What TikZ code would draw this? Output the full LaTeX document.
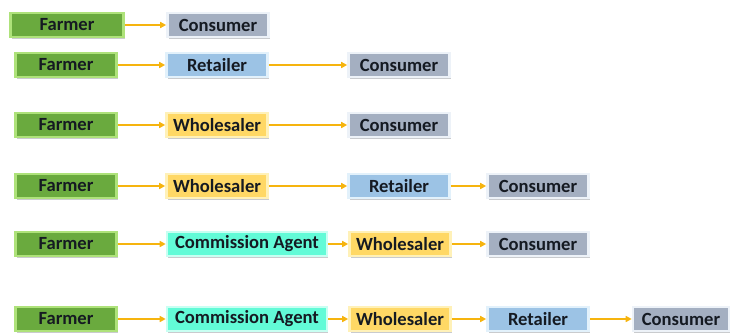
\documentclass[tikz,border=0pt]{standalone}
\usepackage{fontspec}
\setmainfont{Carlito}
\usetikzlibrary{arrows.meta,shadows}
\definecolor{farmfill}{HTML}{6AAA3E}
\definecolor{farmedge}{HTML}{AEE27A}
\definecolor{consfill}{HTML}{A4AFC1}
\definecolor{consedge}{HTML}{EDF2F8}
\definecolor{retfill}{HTML}{9CC3E5}
\definecolor{retedge}{HTML}{E2F1FB}
\definecolor{wholefill}{HTML}{FFD865}
\definecolor{wholeedge}{HTML}{FFF1B8}
\definecolor{agentfill}{HTML}{62FBD7}
\definecolor{agentedge}{HTML}{C8FFF2}
\definecolor{linkgold}{HTML}{F6B40E}
\definecolor{labelink}{HTML}{151A22}
\definecolor{shade}{HTML}{C9CBCE}
\begin{document}
\begin{tikzpicture}[x=1pt, y=-1pt, thick,
			box/.style = {rectangle, line width=2.6pt, minimum height=24pt, minimum width=101pt, inner sep=0pt,
				font=\fontsize{18.6}{20}\selectfont\bfseries, text=labelink,
				drop shadow={shadow xshift=1.2pt, shadow yshift=-1.6pt, fill=shade, opacity=1}},
			farmer/.style = {box, fill=farmfill, draw=farmedge},
			consumer/.style = {box, fill=consfill, draw=consedge},
			retailer/.style = {box, fill=retfill, draw=retedge},
			wholesaler/.style = {box, fill=wholefill, draw=wholeedge},
			agent/.style = {box, fill=agentfill, draw=agentedge, minimum width=160pt},
			link/.style = {draw=linkgold, line width=1.8pt, -{Triangle[length=6pt,width=6pt]}}]
			
			\useasboundingbox (0,0) rectangle (735,335);
			
			% row 1
			\node[farmer, minimum width=113pt] (f1) at (67,25) {Farmer};
			\node[consumer] (c1) at (218,25) {Consumer};
			
			% row 2
			\node[farmer] (f2) at (66,65) {Farmer};
			\node[retailer] (r2) at (217,65) {Retailer};
			\node[consumer] (c2) at (399,65) {Consumer};
			
			% row 3
			\node[farmer] (f3) at (66,125) {Farmer};
			\node[wholesaler] (w3) at (217,125) {Wholesaler};
			\node[consumer] (c3) at (399,125) {Consumer};
			
			% row 4
			\node[farmer] (f4) at (66,186) {Farmer};
			\node[wholesaler] (w4) at (217,186) {Wholesaler};
			\node[retailer] (r4) at (399,186) {Retailer};
			\node[consumer] (c4) at (538,186) {Consumer};
			
			% row 5
			\node[farmer] (f5) at (66,244) {Farmer};
			\node[agent] (a5) at (247,244) {Commission Agent};
			\node[wholesaler] (w5) at (400,244) {Wholesaler};
			\node[consumer] (c5) at (538,244) {Consumer};
			
			% row 6
			\node[farmer] (f6) at (66,319) {Farmer};
			\node[agent] (a6) at (247,319) {Commission Agent};
			\node[wholesaler] (w6) at (400,319) {Wholesaler};
			\node[retailer] (r6) at (538,319) {Retailer};
			\node[consumer, minimum width=96pt] (c6) at (681,319) {Consumer};
			
			\draw[link] (f1) to (c1);
			\draw[link] (f2) to (r2);
			\draw[link] (r2) to (c2);
			\draw[link] (f3) to (w3);
			\draw[link] (w3) to (c3);
			\draw[link] (f4) to (w4);
			\draw[link] (w4) to (r4);
			\draw[link] (r4) to (c4);
			\draw[link] (f5) to (a5);
			\draw[link] (a5) to (w5);
			\draw[link] (w5) to (c5);
			\draw[link] (f6) to (a6);
			\draw[link] (a6) to (w6);
			\draw[link] (w6) to (r6);
			\draw[link] (r6) to (c6);
			
		\end{tikzpicture}
\end{document}
